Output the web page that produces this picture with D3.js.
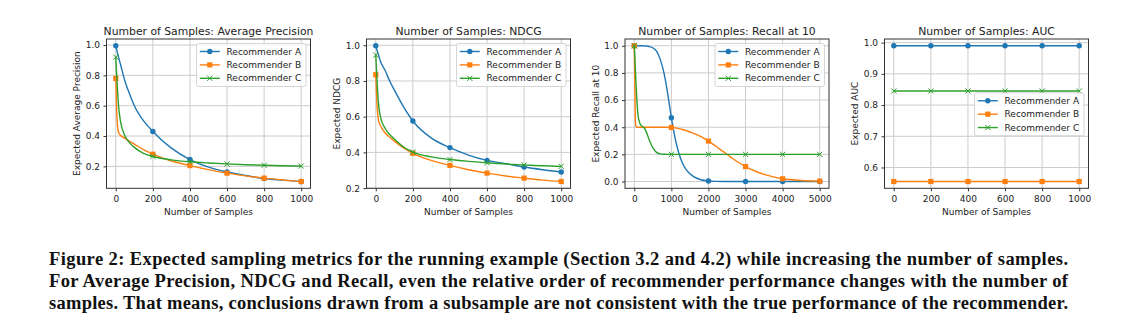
<!DOCTYPE html>
<html>
<head>
<meta charset="utf-8">
<script src="https://cdn.jsdelivr.net/npm/d3@7"></script>
<style>
  body { margin: 0; background: #fff; }
  svg { display: block; }
  .plot text { font-family: "DejaVu Sans", sans-serif; fill: #222; }
  .caption { font-family: "Liberation Serif", serif; font-weight: bold; font-size: 18.5px; fill: #111; }
</style>
</head>
<body>
<svg id="fig" width="1140" height="325"></svg>
<script>
var seriesNames = ["Recommender A", "Recommender B", "Recommender C"];
var seriesColors = ["#1f77b4", "#ff7f0e", "#2ca02c"];

// average precision vs. number of samples
var apSamples = [0, 5, 10, 15, 25, 50, 75, 100, 150, 200, 300, 400, 500, 600, 700, 800, 900, 1000];
var apA = [0.995, 0.97, 0.945, 0.92, 0.875, 0.76, 0.675, 0.60, 0.50, 0.43, 0.32, 0.245, 0.195, 0.163, 0.14, 0.12, 0.109, 0.10];
var apB = [0.78, 0.56, 0.46, 0.425, 0.405, 0.385, 0.365, 0.347, 0.31, 0.28, 0.235, 0.205, 0.178, 0.155, 0.137, 0.122, 0.11, 0.10];
var apC = [0.92, 0.80, 0.69, 0.60, 0.50, 0.40, 0.355, 0.325, 0.285, 0.265, 0.243, 0.23, 0.222, 0.216, 0.211, 0.207, 0.204, 0.202];

// NDCG
var ndcgSamples = [0, 5, 10, 15, 25, 50, 75, 100, 150, 200, 300, 400, 500, 600, 700, 800, 900, 1000];
var ndcgA = [0.997, 0.98, 0.96, 0.945, 0.91, 0.86, 0.80, 0.75, 0.655, 0.576, 0.48, 0.427, 0.385, 0.355, 0.337, 0.318, 0.303, 0.29];
var ndcgB = [0.835, 0.70, 0.62, 0.58, 0.55, 0.51, 0.485, 0.463, 0.425, 0.395, 0.355, 0.327, 0.303, 0.284, 0.268, 0.256, 0.245, 0.237];
var ndcgC = [0.945, 0.84, 0.74, 0.67, 0.60, 0.535, 0.50, 0.475, 0.43, 0.402, 0.375, 0.36, 0.35, 0.342, 0.335, 0.33, 0.325, 0.322];

// recall at 10
var recallSamples = [0, 15, 30, 50, 75, 100, 150, 200, 250, 300, 400, 500, 600, 700, 800, 900, 1000, 1100, 1200, 1300, 1400, 1500, 1600, 1800, 2000, 2200, 2400, 2600, 2800, 3000, 3300, 3600, 4000, 4500, 5000];
var recallA = [1, 1, 1, 1, 1, 1, 1, 1, 1, 0.999, 0.995, 0.985, 0.96, 0.90, 0.80, 0.65, 0.47, 0.32, 0.21, 0.135, 0.088, 0.057, 0.036, 0.013, 0.004, 0.001, 0, 0, 0, 0, 0, 0, 0, 0, 0];
var recallB = [1, 0.72, 0.45, 0.405, 0.40, 0.40, 0.40, 0.40, 0.40, 0.40, 0.40, 0.40, 0.40, 0.40, 0.40, 0.399, 0.398, 0.395, 0.39, 0.383, 0.375, 0.365, 0.355, 0.33, 0.298, 0.26, 0.22, 0.18, 0.142, 0.11, 0.072, 0.045, 0.02, 0.008, 0.003];
var recallC = [1, 0.92, 0.82, 0.70, 0.58, 0.49, 0.43, 0.41, 0.40, 0.38, 0.31, 0.25, 0.215, 0.204, 0.201, 0.2, 0.2, 0.2, 0.2, 0.2, 0.2, 0.2, 0.2, 0.2, 0.2, 0.2, 0.2, 0.2, 0.2, 0.2, 0.2, 0.2, 0.2, 0.2, 0.2];

// AUC
var aucSamples = [0, 200, 400, 600, 800, 1000];
var aucA = [0.99, 0.99, 0.99, 0.99, 0.99, 0.99];
var aucB = [0.555, 0.555, 0.555, 0.555, 0.555, 0.555];
var aucC = [0.845, 0.845, 0.845, 0.845, 0.845, 0.845];

var sampleTicks = [0, 200, 400, 600, 800, 1000];
var recallTicks = [0, 1000, 2000, 3000, 4000, 5000];
var apYTicks = [0.2, 0.4, 0.6, 0.8, 1.0];
var ndcgYTicks = [0.2, 0.4, 0.6, 0.8, 1.0];
var recallYTicks = [0.0, 0.2, 0.4, 0.6, 0.8, 1.0];
var aucYTicks = [0.6, 0.7, 0.8, 0.9, 1.0];

var captionLines = [
  "Figure 2: Expected sampling metrics for the running example (Section 3.2 and 4.2) while increasing the number of samples.",
  "For Average Precision, NDCG and Recall, even the relative order of recommender performance changes with the number of",
  "samples. That means, conclusions drawn from a subsample are not consistent with the true performance of the recommender."
];

var panels = [
  {title: "Number of Samples: Average Precision", ylabel: "Expected Average Precision", x: apSamples, series: [apA, apB, apC], xTicks: sampleTicks, yTicks: apYTicks, markers: sampleTicks, legend: "upper right"},
  {title: "Number of Samples: NDCG", ylabel: "Expected NDCG", x: ndcgSamples, series: [ndcgA, ndcgB, ndcgC], xTicks: sampleTicks, yTicks: ndcgYTicks, markers: sampleTicks, legend: "upper right"},
  {title: "Number of Samples: Recall at 10", ylabel: "Expected Recall at 10", x: recallSamples, series: [recallA, recallB, recallC], xTicks: recallTicks, yTicks: recallYTicks, markers: recallTicks, legend: "upper right"},
  {title: "Number of Samples: AUC", ylabel: "Expected AUC", x: aucSamples, series: [aucA, aucB, aucC], xTicks: sampleTicks, yTicks: aucYTicks, markers: sampleTicks, legend: "center right"}
];

var svg = d3.select("#fig");
svg.append("rect").attr("width", 1140).attr("height", 325).attr("fill", "#fff");

var plotTop = 39, plotBottom = 188.3, plotWidth = 204;
var panelLefts = [106.5, 366.5, 625, 884.5];
var fontSize = 9;

function drawMarker(sel, kind, color) {
  if (kind == 0) {
    sel.append("circle").attr("r", 2.7).attr("fill", color);
  } else if (kind == 1) {
    sel.append("rect").attr("x", -2.6).attr("y", -2.6).attr("width", 5.2).attr("height", 5.2).attr("fill", color);
  } else {
    sel.append("path").attr("d", "M-2.6,-2.6L2.6,2.6M-2.6,2.6L2.6,-2.6")
      .attr("stroke", color).attr("stroke-width", 1).attr("fill", "none");
  }
}

function drawPanel(p, left) {
  var g = svg.append("g").attr("class", "plot");
  var right = left + plotWidth;

  // matplotlib style 5% margins around the data
  var xr = d3.extent(p.x), yr = d3.extent(d3.merge(p.series));
  var xPad = (xr[1] - xr[0]) * 0.05, yPad = (yr[1] - yr[0]) * 0.05;
  var x = d3.scaleLinear().domain([xr[0] - xPad, xr[1] + xPad]).range([left, right]);
  var y = d3.scaleLinear().domain([yr[0] - yPad, yr[1] + yPad]).range([plotBottom, plotTop]);

  // grid
  g.append("g").selectAll("line").data(p.xTicks).enter().append("line")
    .attr("x1", function(d) { return x(d); }).attr("x2", function(d) { return x(d); })
    .attr("y1", plotTop).attr("y2", plotBottom)
    .attr("stroke", "#cccccc").attr("stroke-width", 1);
  g.append("g").selectAll("line").data(p.yTicks).enter().append("line")
    .attr("x1", left).attr("x2", right)
    .attr("y1", function(d) { return y(d); }).attr("y2", function(d) { return y(d); })
    .attr("stroke", "#cccccc").attr("stroke-width", 1);

  // axes
  var xAxis = g.append("g").attr("transform", "translate(0," + plotBottom + ")")
    .call(d3.axisBottom(x).tickValues(p.xTicks).tickSize(3).tickPadding(4.3).tickFormat(d3.format("d")));
  var yAxis = g.append("g").attr("transform", "translate(" + left + ",0)")
    .call(d3.axisLeft(y).tickValues(p.yTicks).tickSize(3).tickPadding(3.5).tickFormat(d3.format(".1f")));
  [xAxis, yAxis].forEach(function(a) {
    a.select(".domain").remove();
    a.attr("font-family", null).attr("font-size", null);
    a.selectAll("line").attr("stroke", "#333");
    a.selectAll("text").style("font-size", fontSize + "px").attr("fill", "#222");
  });

  // curves
  var line = d3.line().curve(d3.curveMonotoneX)
    .x(function(d) { return x(d[0]); }).y(function(d) { return y(d[1]); });
  p.series.forEach(function(vals, i) {
    var pts = p.x.map(function(v, k) { return [v, vals[k]]; });
    g.append("path").datum(pts).attr("d", line)
      .attr("fill", "none").attr("stroke", seriesColors[i]).attr("stroke-width", 1.4);
    var marks = pts.filter(function(d) { return p.markers.indexOf(d[0]) >= 0; });
    marks.forEach(function(d) {
      drawMarker(g.append("g").attr("transform", "translate(" + x(d[0]) + "," + y(d[1]) + ")"), i, seriesColors[i]);
    });
  });

  // frame
  g.append("rect").attr("x", left).attr("y", plotTop).attr("width", plotWidth).attr("height", plotBottom - plotTop)
    .attr("fill", "none").attr("stroke", "#333").attr("stroke-width", 1);

  // labels
  g.append("text").attr("x", (left + right) / 2).attr("y", 34.8).attr("text-anchor", "middle")
    .style("font-size", "10.8px").text(p.title);
  g.append("text").attr("x", (left + right) / 2).attr("y", 214.8).attr("text-anchor", "middle")
    .style("font-size", fontSize + "px").text("Number of Samples");
  g.append("text").attr("transform", "translate(" + (left - 26.5) + "," + ((plotTop + plotBottom) / 2) + ") rotate(-90)")
    .attr("text-anchor", "middle").style("font-size", fontSize + "px").text(p.ylabel);

  // legend
  var lw = 109.5, lh = 43;
  var lx = right - 4.5 - lw;
  var ly = p.legend == "upper right" ? plotTop + 4.5 : (plotTop + plotBottom) / 2 - lh / 2 + 0.6;
  var leg = g.append("g").attr("transform", "translate(" + lx + "," + ly + ")");
  leg.append("rect").attr("width", lw).attr("height", lh).attr("rx", 2)
    .attr("fill", "#fff").attr("fill-opacity", 0.8).attr("stroke", "#cccccc").attr("stroke-width", 0.8);
  seriesNames.forEach(function(name, i) {
    var ey = 8 + i * 13.4;
    leg.append("line").attr("x1", 3.3).attr("x2", 23.3).attr("y1", ey).attr("y2", ey)
      .attr("stroke", seriesColors[i]).attr("stroke-width", 1.4);
    drawMarker(leg.append("g").attr("transform", "translate(13.3," + ey + ")"), i, seriesColors[i]);
    leg.append("text").attr("x", 30).attr("y", ey).attr("dy", "0.35em")
      .style("font-size", fontSize + "px").text(name);
  });
}

panels.forEach(function(p, i) { drawPanel(p, panelLefts[i]); });

// figure caption, justified across the column
svg.selectAll(".caption").data(captionLines).enter().append("text")
  .attr("class", "caption")
  .attr("x", 49).attr("y", function(d, i) { return 264.5 + i * 22; })
  .attr("textLength", 1019).attr("lengthAdjust", "spacing")
  .text(function(d) { return d; });
</script>
</body>
</html>
